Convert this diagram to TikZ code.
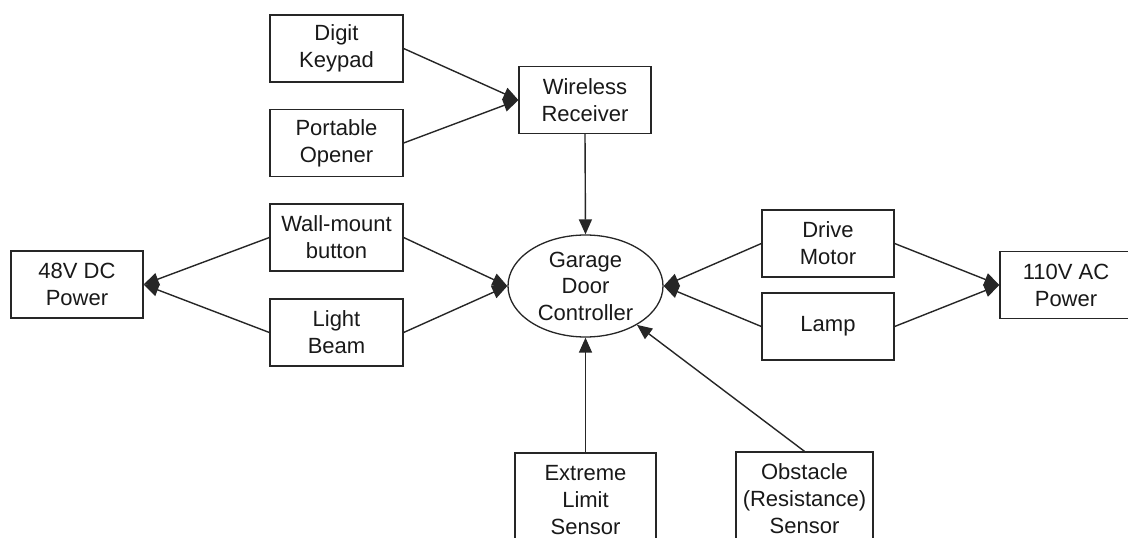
\documentclass[tikz,border=0pt]{standalone}
\usepackage{fontspec}
\setmainfont{Liberation Sans}
\usetikzlibrary{arrows.meta,shapes.geometric}

\tikzset{
  block/.style={draw=black!85, line width=1.3pt, rectangle, minimum width=133pt,
                minimum height=67pt, align=center, inner sep=2pt,
                font=\fontsize{22}{27}\selectfont, text=black!90},
  hub/.style={draw=black!85, line width=1.3pt, ellipse, minimum width=155pt,
              minimum height=102pt, inner sep=0pt, align=center,
              font=\fontsize{22}{26.5}\selectfont, text=black!90},
  link/.style={draw=black!85, line width=1.4pt,
               -{Triangle[length=15pt,width=13pt]}}
}

\begin{document}
\begin{tikzpicture}[x=1pt, y=-1pt]
  \clip (0,0) rectangle (1128,538);
  \fill[white] (0,0) rectangle (1128,538);

  % input devices feeding the receiver
  \node[block] (keypad) at (336.5,48.5) {Digit\\Keypad};
  \node[block] (opener) at (336.5,143) {Portable\\Opener};
  \node[block, minimum width=132pt] (recv) at (585,100) {Wireless\\Receiver};

  % left branch
  \node[block] (wall) at (336.5,237.5) {Wall-mount\\button};
  \node[block] (beam) at (336.5,332.5) {Light\\Beam};
  \node[block, minimum width=132pt] (dc48) at (77,284.5) {48V DC\\Power};

  % controller
  \node[hub] (ctrl) at (585.5,286) {Garage\\Door\\Controller};

  % right branch
  \node[block, minimum width=132pt] (drive) at (828,243.5) {Drive\\Motor};
  \node[block, minimum width=132pt] (lamp) at (828,326.5) {Lamp};
  \node[block, minimum width=132pt] (ac110) at (1066,285) {110V AC\\Power};

  % sensors
  \node[block, minimum width=141pt, minimum height=94pt] (limit) at (585.5,500) {Extreme\\Limit\\Sensor};
  \node[block, minimum width=137pt, minimum height=94pt] (obst) at (804.5,499) {Obstacle\\(Resistance)\\Sensor};

  % connectors
  \draw[link] (keypad.east) -- (recv.west);
  \draw[link] (opener.east) -- (recv.west);
  \draw[link] (recv.south) -- (ctrl.north);

  \draw[link] (wall.east) -- (ctrl.west);
  \draw[link] (beam.east) -- (ctrl.west);
  \draw[link] (wall.west) -- (dc48.east);
  \draw[link] (beam.west) -- (dc48.east);

  \draw[link] (drive.west) -- (ctrl.east);
  \draw[link] (lamp.west) -- (ctrl.east);
  \draw[link] (drive.east) -- (ac110.west);
  \draw[link] (lamp.east) -- (ac110.west);

  \draw[link] (limit.north) -- (ctrl.south);
  \draw[link] (obst.north) -- (ctrl);
\end{tikzpicture}
\end{document}
